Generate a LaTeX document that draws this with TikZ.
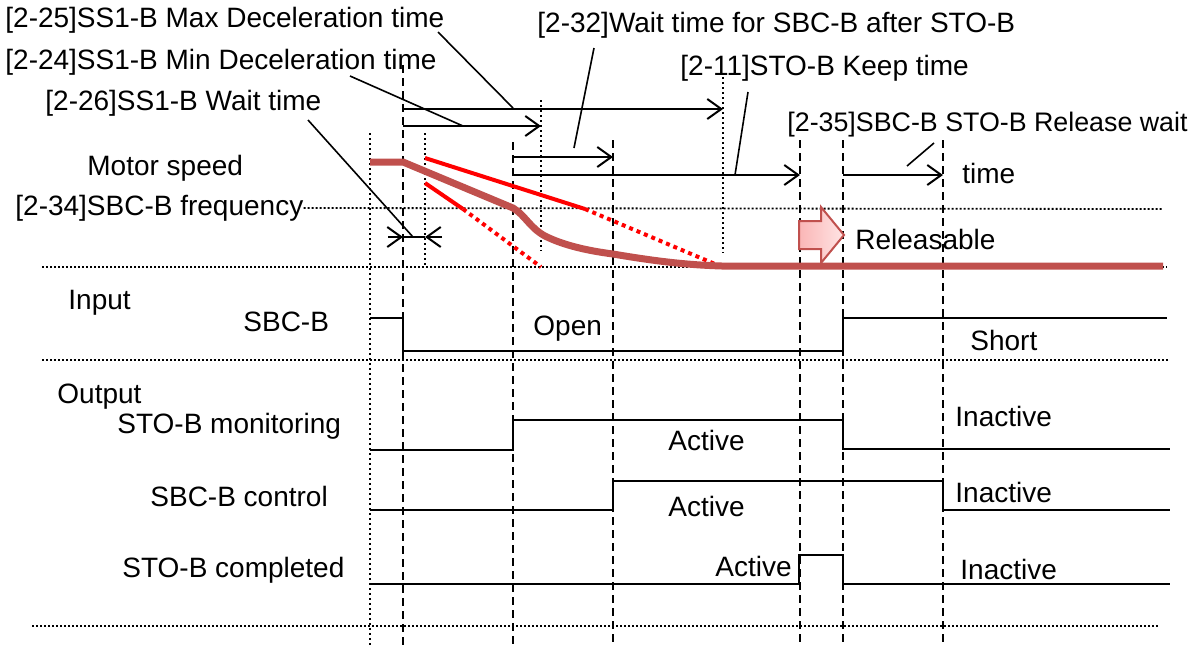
\documentclass[tikz,border=0pt]{standalone}
\usepackage{fontspec}
\setmainfont{Liberation Sans}
\usetikzlibrary{arrows.meta}

\definecolor{speedred}{RGB}{192,80,77}
\definecolor{pinkdark}{RGB}{250,182,182}
\definecolor{pinklight}{RGB}{255,228,228}

\begin{document}
\begin{tikzpicture}[
    x=0.5pt, y=-0.5pt,
    lbl/.style={anchor=west, inner sep=0pt, font=\fontsize{14}{16}\selectfont},
    markdot/.style={line width=1pt, dash pattern=on 1pt off 1.5pt},
    markdash/.style={line width=1pt, dash pattern=on 4pt off 2.5pt},
    gridline/.style={line width=0.9pt, dash pattern=on 1pt off 1pt},
    signal/.style={line width=1pt},
    speed/.style={line width=3.5pt, draw=speedred},
    limit/.style={line width=2pt, draw=red},
    limitdot/.style={limit, dash pattern=on 2pt off 2pt},
    span/.style={-{Straight Barb[length=7pt, width=10pt]}, line width=1pt},
    leader/.style={line width=0.8pt}
]
\useasboundingbox (0,0) rectangle (1200,650);

% --- Parameter labels ---
\node[lbl] (maxdec) at (5,20) {[2-25]SS1-B Max Deceleration time};
\node[lbl] (waitsbc) at (537,25) {[2-32]Wait time for SBC-B after STO-B};
\node[lbl] (mindec) at (5,62) {[2-24]SS1-B Min Deceleration time};
\node[lbl] (keep) at (680,68) {[2-11]STO-B Keep time};
\node[lbl] (waitss) at (45,103) {[2-26]SS1-B Wait time};
\node[lbl, font=\fontsize{13.4}{16}\selectfont] (release) at (787,125) {[2-35]SBC-B STO-B Release wait};
\node[lbl] (timelbl) at (962,173) {time};

% --- Signal labels ---
\node[lbl] (speedlbl) at (87,168) {Motor speed};
\node[lbl] (freq) at (15,208) {[2-34]SBC-B frequency};
\node[lbl] (relbl) at (855,239) {Releasable};
\node[lbl] (inlbl) at (68,303) {Input};
\node[lbl] (sbcin) at (243,322) {SBC-B};
\node[lbl] (openlbl) at (533,329) {Open};
\node[lbl] (shortlbl) at (970,340) {Short};
\node[lbl] (outlbl) at (57,397) {Output};
\node[lbl] (stomon) at (117,426) {STO-B monitoring};
\node[lbl] (actmon) at (668,440) {Active};
\node[lbl] (inactmon) at (955,416) {Inactive};
\node[lbl] (sbcctl) at (150,496) {SBC-B control};
\node[lbl] (actctl) at (668,506) {Active};
\node[lbl] (inactctl) at (955,492) {Inactive};
\node[lbl] (stocpl) at (122,570) {STO-B completed};
\node[lbl] (actcpl) at (715,566) {Active};
\node[lbl] (inactcpl) at (960,569) {Inactive};

% --- Horizontal separators ---
\draw[gridline] (freq.east) -- (1163,209);
\draw[gridline] (42,267) -- (1167,267);
\draw[gridline] (42,360) -- (1170,360);
\draw[gridline] (32,626) -- (1160,626);

% --- Time marks ---
\draw[markdot] (370,133) -- (370,645);
\draw[markdash] (403,65) -- (403,645);
\draw[markdot] (425,133) -- (425,265);
\draw[markdash] (513,142) -- (513,645);
\draw[markdot] (541,100) -- (541,251);
\draw[markdash] (613,140) -- (613,645);
\draw[markdot] (723,77) -- (723,253);
\draw[markdash] (800,140) -- (800,645);
\draw[markdash] (843,140) -- (843,645);
\draw[markdash] (943,140) -- (943,645);

% --- Time spans ---
\draw[span] (403,109) -- (723,109);
\draw[span] (403,126) -- (541,126);
\draw[span] (513,157) -- (613,157);
\draw[span] (513,175) -- (800,175);
\draw[span] (843,175) -- (943,175);
\draw[span] (388,237) -- (403,237);
\draw[signal] (403,237) -- (425,237);
\draw[span] (442,237) -- (425,237);

% --- Leaders ---
\draw[leader] (438,32) -- (513,108);
\draw[leader] (350,76) -- (463,126);
\draw[leader] (308,120) -- (413,237);
\draw[leader] (594,48) -- (574,148);
\draw[leader] (748,92) -- (735,175);
\draw[leader] (934,143) -- (907,166);

% --- Deceleration limits ---
\draw[limit] (425,158) -- (585,209);
\draw[limitdot] (585,209) -- (722,267);
\draw[limit] (425,183) -- (463,209);
\draw[limitdot] (463,209) -- (541,267);

% --- Motor speed ---
\draw[speed] (370,162) -- (403,162) -- (513,208)
    .. controls (525,215) and (530,228) .. (545,236)
    .. controls (565,246) and (590,251) .. (613,254)
    .. controls (660,262) and (690,265) .. (722,266) -- (1163,266);

% --- Releasable arrow ---
\shade[left color=pinkdark, right color=pinklight, draw=speedred, line width=1pt]
    (799,221) -- (821,221) -- (821,207) -- (844,235) -- (821,263) -- (821,249) -- (799,249) -- cycle;

% --- Signals ---
\draw[signal] (370,318) -- (403,318) -- (403,351) -- (843,351) -- (843,318) -- (1167,318);
\draw[signal] (370,450) -- (513,450) -- (513,420) -- (843,420) -- (843,449) -- (1170,449);
\draw[signal] (370,510) -- (613,510) -- (613,481) -- (943,481) -- (943,510) -- (1170,510);
\draw[signal] (370,584) -- (799,584) -- (799,555) -- (843,555) -- (843,584) -- (1170,584);

\end{tikzpicture}
\end{document}
